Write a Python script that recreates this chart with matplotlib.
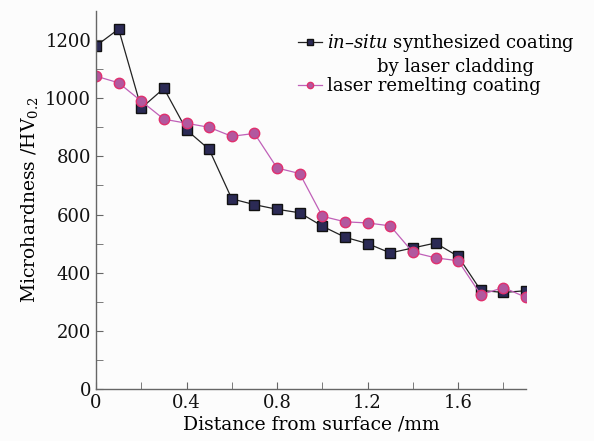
import matplotlib
matplotlib.use("Agg")
import matplotlib.pyplot as plt

# Data
distance = [0, 0.1, 0.2, 0.3, 0.4, 0.5, 0.6, 0.7, 0.8, 0.9,
            1.0, 1.1, 1.2, 1.3, 1.4, 1.5, 1.6, 1.7, 1.8, 1.9]
insitu = [1180, 1238, 966, 1034, 891, 824, 654, 634, 618, 606,
          560, 522, 500, 468, 485, 502, 456, 339, 332, 338]
remelt = [1076, 1053, 990, 928, 914, 900, 869, 879, 760, 741,
          594, 575, 571, 561, 470, 451, 441, 324, 349, 315]

xticks = [0, 0.4, 0.8, 1.2, 1.6]
xtick_labels = ["0", "0.4", "0.8", "1.2", "1.6"]
yticks = [0, 200, 400, 600, 800, 1000, 1200]

plt.rcParams["font.family"] = "DejaVu Serif"
plt.rcParams["mathtext.fontset"] = "dejavuserif"

fig = plt.figure(figsize=(5.94, 4.41), dpi=100)
fig.patch.set_facecolor("#fcfcfc")
ax = fig.add_axes([0.1616, 0.118, 0.724, 0.857])
ax.set_facecolor("#fcfcfc")

ax.plot(distance, insitu, color="#222222", linewidth=0.9, marker="s",
        markersize=7, markerfacecolor="#2b2a55", markeredgecolor="#111111",
        label=r"$\mathit{in}$–$\mathit{situ}$ synthesized coating")
ax.plot(distance, remelt, color="#c060b8", linewidth=0.9, marker="o",
        markersize=7.5, markerfacecolor="#b2589f", markeredgecolor="#e0306e",
        label="laser remelting coating")

ax.set_xlim(0, 1.9)
ax.set_ylim(0, 1300)
ax.set_xticks(xticks)
ax.set_xticklabels(xtick_labels)
ax.set_xticks([0.2, 0.6, 1.0, 1.4, 1.8], minor=True)
ax.set_yticks(yticks)
ax.set_yticks([100, 300, 500, 700, 900, 1100], minor=True)

for side in ["top", "right"]:
    ax.spines[side].set_visible(False)
for side in ["left", "bottom"]:
    ax.spines[side].set_color("#666666")
    ax.spines[side].set_linewidth(1.0)

ax.tick_params(axis="both", which="both", direction="in", colors="#666666",
               labelcolor="#111111", labelsize=13)
ax.tick_params(which="major", length=5)
ax.tick_params(which="minor", length=5)

ax.set_xlabel("Distance from surface /mm", fontsize=13.5, labelpad=3)
ax.set_ylabel(r"Microhardness /HV$_{0.2}$", fontsize=13.5, labelpad=4)

leg = ax.legend(loc="upper left", bbox_to_anchor=(298 / 594, 1 - 32 / 441),
                bbox_transform=fig.transFigure, frameon=False,
                fontsize=13, handlelength=1.33, handletextpad=0.3,
                labelspacing=1.3, borderpad=0.0, borderaxespad=0.0,
                markerscale=0.6)

# second line of the first legend entry
fig.text(377 / 594, 1 - 67 / 441, "by laser cladding", fontsize=13,
         ha="left", va="center")

fig.savefig("out.png", dpi=100, facecolor=fig.get_facecolor())
